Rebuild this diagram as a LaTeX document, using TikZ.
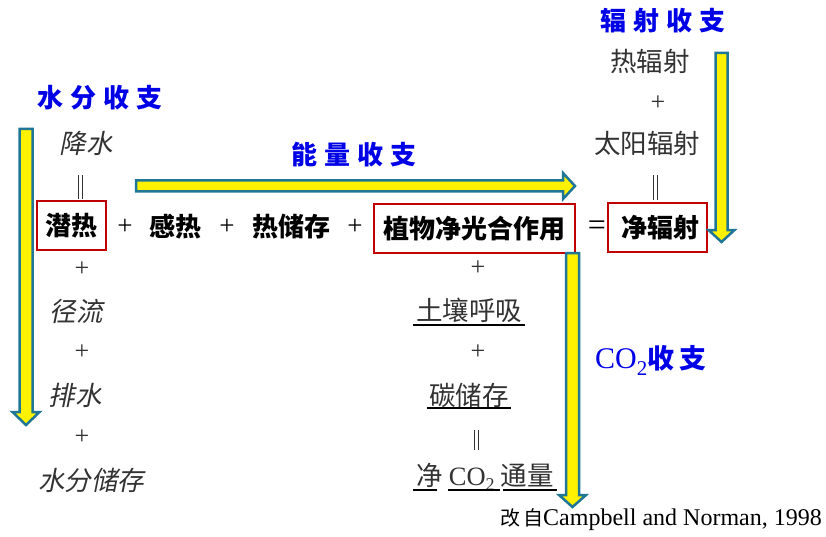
\documentclass[tikz,border=0pt]{standalone}
\usepackage{fontspec}
\setmainfont{Liberation Serif}
\newfontfamily\cjk{Noto Sans CJK SC}
\newfontfamily\cjkit[FakeSlant=0.2]{Noto Sans CJK SC}
\newcommand{\tgap}{\hspace{7pt}}
\definecolor{tblue}{RGB}{0,0,230}
\definecolor{boxred}{RGB}{192,0,0}
\definecolor{teal2}{RGB}{31,118,150}
\definecolor{txtgray}{RGB}{50,50,50}
\begin{document}
\begin{tikzpicture}[x=1pt,y=-1pt,
  mainrow/.style={font=\cjk\bfseries\fontsize{26}{30}\selectfont, text=black, inner sep=0pt},
  plainrow/.style={font=\cjk\fontsize{26.5}{30}\selectfont, text=txtgray, inner sep=0pt},
  itrow/.style={font=\cjkit\fontsize{26.5}{30}\selectfont, text=txtgray, inner sep=0pt},
  plus/.style={font=\fontsize{26}{30}\selectfont, text=txtgray, inner sep=0pt},
  mplus/.style={font=\fontsize{27}{30}\selectfont, text=black, inner sep=0pt},
  title/.style={font=\cjk\bfseries\fontsize{26}{30}\selectfont, text=tblue, inner sep=0pt},
  redbox/.style={draw=boxred, line width=1.5pt, inner sep=0pt},
  bigarrow/.style={fill=yellow, draw=teal2, line width=2.5pt, line join=miter},
  eqline/.style={draw=txtgray, line width=0.8pt},
  uline/.style={draw=black, line width=1.5pt}]
\useasboundingbox (0,0) rectangle (826,537);

% titles
\node[title] (tw) at (100,98) {水\tgap 分\tgap 收\tgap 支};
\node[title] (te) at (354,155) {能\tgap 量\tgap 收\tgap 支};
\node[title] (tr) at (663,21) {辐\tgap 射\tgap 收\tgap 支};
\node[title, anchor=west] (tc) at (595,360) {\fontseries{m}\selectfont{\fontspec{Liberation Serif}\fontsize{30}{32}\selectfont CO\raisebox{-7pt}{\fontsize{21}{22}\selectfont 2}}\bfseries\cjk\fontsize{27}{30}\selectfont 收\hspace{5pt}支};

% main row
\node[mainrow, redbox, minimum width=69pt, minimum height=49pt] (latent) at (71.5,225.5) {潜热};
\node[mplus] (p1) at (125,227) {+};
\node[mainrow] (sens) at (175,227) {感热};
\node[mplus] (p2) at (227,227) {+};
\node[mainrow] (store) at (291,227) {热储存};
\node[mplus] (p3) at (355,227) {+};
\node[mainrow, redbox, minimum width=201pt, minimum height=49pt] (npp) at (474.5,228.5) {植物净光合作用};
\node[font=\fontsize{32}{34}\selectfont, text=black, inner sep=0pt] (eq) at (597,228) {=};
\node[mainrow, redbox, minimum width=99pt, minimum height=49pt] (rn) at (657.5,227.5) {\hspace{6pt}净辐射};

% water column
\node[itrow] (rain) at (86,143) {降水};
\node[plus] (w1) at (82,269) {+};
\node[itrow] (runoff) at (76,311) {径流};
\node[plus] (w2) at (82,352) {+};
\node[itrow] (drain) at (75,395) {排水};
\node[plus] (w3) at (82,437) {+};
\node[itrow] (wstore) at (91,480) {水分储存};

% radiation column
\node[plainrow] (lw) at (650,61) {热辐射};
\node[plus] (r1) at (658,103) {+};
\node[plainrow] (sw) at (647,143) {太阳辐射};

% carbon column
\node[plus] (c1) at (478,268) {+};
\node[plainrow] (soil) at (469,310) {土壤呼吸};
\node[plus] (c2) at (478,352) {+};
\node[plainrow] (cst) at (469,395) {碳储存};
\node[plainrow] (nee) at (485,477) {净\hspace{6pt}{\fontspec{Liberation Serif}CO\raisebox{-5pt}{\fontsize{18}{20}\selectfont 2}}\hspace{6pt}通量};

% underlines
\draw[uline] (413,325) -- (525,325);
\draw[uline] (427,408) -- (511,408);
\draw[uline] (413,490) -- (437,490);
\draw[uline] (448,490) -- (500,490);
\draw[uline] (503,490) -- (557,490);

% double bars
\draw[eqline] (78,175) -- (78,199);
\draw[eqline] (82,175) -- (82,199);
\draw[eqline] (653,175) -- (653,200);
\draw[eqline] (657,175) -- (657,200);
\draw[eqline] (474,430) -- (474,450);
\draw[eqline] (478,430) -- (478,450);

% big arrows
\draw[bigarrow] (19.5,129) -- (32.5,129) -- (32.5,412) -- (39.5,412) -- (26,425) -- (12.5,412) -- (19.5,412) -- cycle;
\draw[bigarrow] (136,180.5) -- (563,180.5) -- (563,173) -- (575,186) -- (563,199) -- (563,191.5) -- (136,191.5) -- cycle;
\draw[bigarrow] (715.5,53) -- (727.5,53) -- (727.5,230) -- (734.5,230) -- (721.5,242) -- (708.5,230) -- (715.5,230) -- cycle;
\draw[bigarrow] (566,253) -- (579,253) -- (579,495) -- (586,495) -- (572.5,507) -- (559,495) -- (566,495) -- cycle;

% credit
\node[anchor=east, inner sep=0pt, text=black] (credit) at (822,520) {{\cjk\fontsize{20}{24}\selectfont 改\hspace{3pt}自}{\fontsize{24}{26}\selectfont Campbell and Norman, 1998}};
\end{tikzpicture}
\end{document}
